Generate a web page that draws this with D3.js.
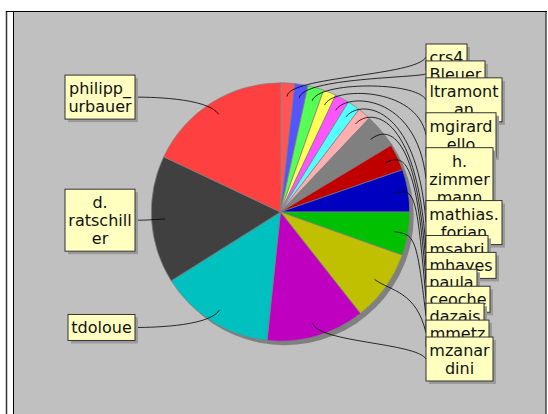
<!DOCTYPE html>
<html>
<head>
<meta charset="utf-8">
<script src="https://cdn.jsdelivr.net/npm/d3@7"></script>
<style>
  body { margin: 0; background: #fff; }
  svg { display: block; }
  text { font-family: "DejaVu Sans", sans-serif; font-size: 16px; fill: #111; }
</style>
</head>
<body>
<div id="container"></div>
<script>
// authors and their share of the pie
var names = ["crs4", "Bleuer", "ltramontan", "mgirardello", "h.zimmermann", "mathias.forian",
  "msabri", "mhayes", "paula", "ceoche", "dazais", "mmetz", "mzanardini", "tdoloue",
  "d.ratschiller", "philipp_urbauer"];
var values = [6.4, 5.9, 7.2, 5.8, 6.4, 5.8, 5.9, 15.5, 12.0, 19.1, 19.5, 32.3, 44.2, 51.8, 57.5, 64.7];
// label text as it is wrapped in the boxes
var labelLines = [["crs4"], ["Bleuer"], ["ltramont", "an"], ["mgirard", "ello"], ["h.", "zimmer", "mann"],
  ["mathias.", "forian"], ["msabri"], ["mhayes"], ["paula"], ["ceoche"], ["dazais"], ["mmetz"],
  ["mzanar", "dini"], ["tdoloue"], ["d.", "ratschill", "er"], ["philipp_", "urbauer"]];
var colors = ["#FF5555", "#5555FF", "#55FF55", "#FFFF55", "#FF55FF", "#55FFFF", "#FFAFAF", "#808080",
  "#C00000", "#0000C0", "#00C000", "#C0C000", "#C000C0", "#00C0C0", "#404040", "#FF4040"];

var width = 548, height = 414;
var cx = 280.5, cy = 212,
    linkR = 136,            // link area radius
    r = linkR * 0.95,       // pie radius
    linkPct = 0.895,
    gap = 9.5,
    lineH = 18, boxPad = 8,
    labelTop = 44, labelBottom = 381;

var svg = d3.select("#container").append("svg")
  .attr("width", width).attr("height", height);

// chart frame and plot background
svg.append("line").attr("x1", 6.5).attr("x2", 6.5).attr("y1", 11).attr("y2", height)
  .attr("stroke", "#333").attr("stroke-width", 1.5);
svg.append("rect").attr("x", 13.5).attr("y", 11.5).attr("width", 532.5).attr("height", 420)
  .attr("fill", "#C0C0C0").attr("stroke", "#000").attr("stroke-width", 1);
svg.append("line").attr("x1", 6).attr("x2", 547).attr("y1", 11.5).attr("y2", 11.5)
  .attr("stroke", "#000");

var data = names.map(function(n, i) { return {name: n, value: values[i], lines: labelLines[i], color: colors[i]}; });

var pie = d3.pie().sort(null).value(function(d) { return d.value; });
var arcs = pie(data);
var arc = d3.arc().innerRadius(0).outerRadius(r);

// shadow
svg.append("circle").attr("cx", cx + 4).attr("cy", cy + 4).attr("r", r).attr("fill", "#808080");

var g = svg.append("g").attr("transform", "translate(" + cx + "," + cy + ")");
g.selectAll("path").data(arcs).enter().append("path")
  .attr("d", arc)
  .attr("fill", function(d) { return d.data.color; })
  .attr("stroke", "#808080").attr("stroke-width", 0.7);

// label records
var recs = arcs.map(function(a) {
  var t = (a.startAngle + a.endAngle) / 2;
  var sx = Math.sin(t), sy = -Math.cos(t);
  return {
    d: a.data,
    left: sx < 0,
    h: a.data.lines.length * lineH + boxPad,
    baseY: cy + sy * linkR,
    linkX: cx + sx * r * linkPct, linkY: cy + sy * r * linkPct,
    elbowX: cx + sx * linkR, elbowY: cy + sy * linkR
  };
});

function distribute(list) {
  list.sort(function(a, b) { return a.baseY - b.baseY; });
  list.forEach(function(d) { d.y = d.baseY; });
  var overlap = false;
  for (var i = 1; i < list.length; i++) {
    if (list[i].y - list[i].h / 2 < list[i - 1].y + list[i - 1].h / 2) overlap = true;
  }
  if (!overlap) return;
  var sum = d3.sum(list, function(d) { return d.h; });
  var gp = (labelBottom - labelTop - sum) / (list.length - 1);
  var y = labelTop;
  list.forEach(function(d) {
    y += d.h / 2; d.y = y; y += d.h / 2 + gp;
  });
}

var leftRecs = recs.filter(function(d) { return d.left; });
var rightRecs = recs.filter(function(d) { return !d.left; });
distribute(leftRecs);
distribute(rightRecs);

function drawLabel(rec) {
  var anchorX = rec.left ? cx - linkR : cx + linkR;
  var targetX = rec.left ? anchorX - gap : anchorX + gap;
  var p = d3.path();
  p.moveTo(targetX, rec.y);
  p.bezierCurveTo(anchorX, rec.elbowY, rec.elbowX, rec.elbowY, rec.linkX, rec.linkY);
  svg.append("path").attr("d", p.toString()).attr("fill", "none")
    .attr("stroke", "#000").attr("stroke-width", 0.8);

  var lg = svg.append("g");
  var top = rec.y - rec.h / 2;
  var texts = lg.selectAll("text").data(rec.d.lines).enter().append("text")
    .attr("text-anchor", "middle")
    .attr("y", function(s, i) { return top + boxPad / 2 + lineH * i + lineH / 2 + 6; })
    .text(function(s) { return s; });
  var w = 0;
  texts.each(function() { w = Math.max(w, this.getComputedTextLength()); });
  var bw = Math.round(w + 7);
  var bx = rec.left ? targetX - bw : targetX;
  texts.attr("x", bx + bw / 2);
  lg.insert("rect", "text").attr("x", bx).attr("y", top).attr("width", bw).attr("height", rec.h)
    .attr("fill", "#FFFFC0").attr("stroke", "#333").attr("stroke-width", 1);
  lg.insert("rect", "rect").attr("x", bx + 3).attr("y", top + 3).attr("width", bw).attr("height", rec.h)
    .attr("fill", "#9a9a9a");
}

leftRecs.forEach(drawLabel);
rightRecs.forEach(drawLabel);
</script>
</body>
</html>
